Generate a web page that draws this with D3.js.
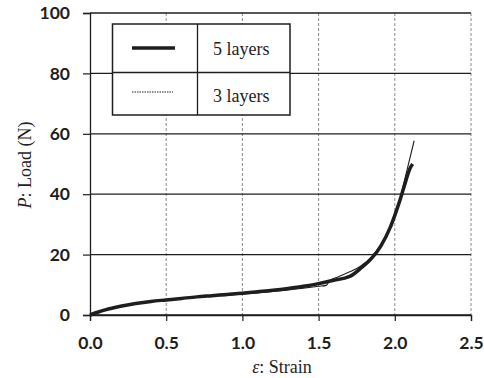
<!DOCTYPE html>
<html><head><meta charset="utf-8">
<script src="https://cdn.jsdelivr.net/npm/d3@7/dist/d3.min.js"></script>
<style>body{margin:0;background:#fff}svg{display:block}</style>
</head><body>
<script>
const xTicks = [0, 0.5, 1.0, 1.5, 2.0, 2.5];
const yTicks = [0, 20, 40, 60, 80, 100];
const seriesNames = ["5 layers", "3 layers"];
const strain5 = [0, 0.05, 0.1, 0.2, 0.3, 0.4, 0.5, 0.6, 0.7, 0.8, 0.9, 1.0, 1.1, 1.2, 1.3, 1.4, 1.5, 1.6, 1.7, 1.72, 1.77, 1.85, 1.91, 1.97, 2.0, 2.035, 2.07, 2.1, 2.117];
const load5 = [0, 0.9, 1.7, 2.9, 3.8, 4.5, 5.0, 5.5, 6.0, 6.4, 6.8, 7.2, 7.7, 8.2, 8.8, 9.5, 10.4, 11.5, 12.7, 13.2, 15.2, 18.9, 23.0, 29.0, 33.0, 38.2, 44.0, 48.6, 50.0];
const strain3 = [0, 0.05, 0.1, 0.2, 0.3, 0.4, 0.5, 0.6, 0.7, 0.8, 0.9, 1.0, 1.1, 1.2, 1.3, 1.4, 1.5, 1.55, 1.57, 1.63, 1.7, 1.77, 1.85, 1.91, 1.97, 2.0, 2.035, 2.08, 2.127];
const load3 = [0, 0.9, 1.7, 2.9, 3.8, 4.5, 5.0, 5.4, 5.8, 6.2, 6.5, 6.9, 7.3, 7.8, 8.3, 8.9, 9.5, 9.8, 11.2, 12.7, 14.2, 16.0, 19.3, 23.3, 29.3, 33.3, 38.8, 48.0, 57.7];

const W = 484, H = 378;
const svg = d3.select("body").append("svg").attr("width", W).attr("height", H);
const x = d3.scaleLinear().domain([0, 2.5]).range([90, 471]);
const y = d3.scaleLinear().domain([0, 100]).range([315, 13]);
const ink = "#1e1e1e";

// vertical dashed gridlines
svg.append("g").selectAll("line").data(xTicks.slice(1)).join("line")
  .attr("x1", d => x(d)).attr("x2", d => x(d)).attr("y1", y(100)).attr("y2", y(0))
  .attr("stroke", "#8a8a8a").attr("stroke-width", 1).attr("stroke-dasharray", "3,2");

// horizontal solid gridlines
svg.append("g").selectAll("line").data(yTicks).join("line")
  .attr("x1", x(0)).attr("x2", x(2.5)).attr("y1", d => y(d)).attr("y2", d => y(d))
  .attr("stroke", ink).attr("stroke-width", 1.3);

// axes
const yAxis = svg.append("g").attr("transform", `translate(${x(0)},0)`)
  .call(d3.axisLeft(y).tickValues(yTicks).tickSize(7).tickPadding(13).tickFormat(d3.format("d")));
const xAxis = svg.append("g").attr("transform", `translate(0,${y(0)})`)
  .call(d3.axisBottom(x).tickValues(xTicks).tickSize(6).tickPadding(16).tickFormat(d3.format(".1f")));
[yAxis, xAxis].forEach(g => {
  g.select(".domain").attr("stroke", ink).attr("stroke-width", 1.3);
  g.selectAll(".tick line").attr("stroke", ink).attr("stroke-width", 1.2);
  g.selectAll("text").attr("fill", ink).attr("font-family", "Lato, 'Open Sans', sans-serif")
    .attr("font-weight", "bold").attr("font-size", 17.5);
});

// lines
const line = d3.line().x(d => x(d[0])).y(d => y(d[1])).curve(d3.curveMonotoneX);
const d5 = strain5.map((s, i) => [s, load5[i]]);
const d3l = strain3.map((s, i) => [s, load3[i]]);
svg.append("path").attr("d", line(d3l)).attr("fill", "none").attr("stroke", ink).attr("stroke-width", 1.1);
svg.append("path").attr("d", line(d5)).attr("fill", "none").attr("stroke", ink).attr("stroke-width", 3.5);

// legend
const lg = svg.append("g");
lg.append("rect").attr("x", 112.5).attr("y", 24).attr("width", 177.5).attr("height", 91)
  .attr("fill", "#fff").attr("stroke", ink).attr("stroke-width", 1.5);
lg.append("line").attr("x1", 197.5).attr("x2", 197.5).attr("y1", 24).attr("y2", 115).attr("stroke", ink).attr("stroke-width", 1.3);
lg.append("line").attr("x1", 112.5).attr("x2", 290).attr("y1", 72.5).attr("y2", 72.5).attr("stroke", ink).attr("stroke-width", 1.3);
lg.append("line").attr("x1", 132).attr("x2", 175).attr("y1", 48).attr("y2", 48).attr("stroke", ink).attr("stroke-width", 3.5);
lg.append("line").attr("x1", 132).attr("x2", 173).attr("y1", 92).attr("y2", 92).attr("stroke", ink).attr("stroke-width", 1).attr("stroke-dasharray", "1.5,1");
lg.selectAll("text").data(seriesNames).join("text")
  .attr("x", 213).attr("y", (d, i) => i === 0 ? 55 : 101.5)
  .attr("font-family", "'Liberation Serif', 'Times New Roman', serif").attr("font-size", 18).attr("fill", ink)
  .text(d => d);

// axis titles
const xt = svg.append("text").attr("x", 282).attr("y", 372.5).attr("text-anchor", "middle")
  .attr("font-family", "'Liberation Serif', 'Times New Roman', serif").attr("font-size", 18).attr("fill", ink);
xt.append("tspan").attr("font-style", "italic").text("ε");
xt.append("tspan").text(": Strain");
const yt = svg.append("text").attr("transform", "translate(31,165) rotate(-90)").attr("text-anchor", "middle")
  .attr("font-family", "'Liberation Serif', 'Times New Roman', serif").attr("font-size", 18).attr("fill", ink);
yt.append("tspan").attr("font-style", "italic").text("P");
yt.append("tspan").text(": Load (N)");
</script>
</body></html>
